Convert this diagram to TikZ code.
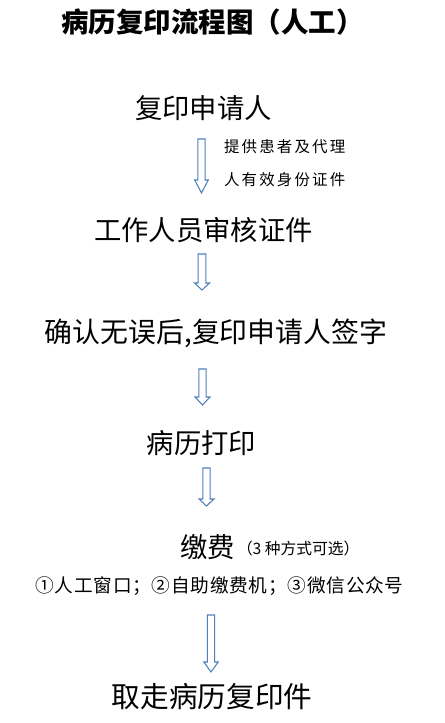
\documentclass[tikz,border=0pt]{standalone}
\usepackage{fontspec}
\setmainfont{Noto Sans CJK SC}
\newfontfamily\cjk{Noto Sans CJK SC}
\newfontfamily\cjksp[LetterSpace=14]{Noto Sans CJK SC}
\newfontfamily\cjkspb[LetterSpace=4]{Noto Sans CJK SC}
\definecolor{arrowblue}{RGB}{79,129,189}
\tikzset{
  txt/.style={inner sep=0pt, outer sep=0pt, text=black},
  mainstep/.style={txt, font=\cjk\fontsize{20.5pt}{24pt}\selectfont},
  blockarrow/.style={draw=arrowblue, fill=white, line width=0.8pt, line join=miter},
}
% \barrow{cx}{top}{headstart}{tip}{shaft half width}{head half width}
\newcommand\barrow[6]{%
  \draw[blockarrow] (#1-#5,#2) -- (#1+#5,#2) -- (#1+#5,#3) -- (#1+#6,#3)
    -- (#1,#4) -- (#1-#6,#3) -- (#1-#5,#3) -- cycle;}
\begin{document}
\begin{tikzpicture}[x=0.75pt,y=-0.75pt]
\useasboundingbox (0,0) rectangle (445,723);
\fill[white] (0,0) rectangle (445,723);

\node[txt, font=\cjk\bfseries\fontsize{20.6pt}{24pt}\selectfont] (title) at (212.5,22) {病历复印流程图（人工）};

\node[mainstep] (s1) at (203.5,108) {复印申请人};
\node[txt, anchor=west, font=\cjksp\fontsize{11.6pt}{14pt}\selectfont] (n1) at (224,147) {提供患者及代理};
\node[txt, anchor=west, font=\cjksp\fontsize{11.6pt}{14pt}\selectfont] (n2) at (224,180) {人有效身份证件};

\node[mainstep] (s2) at (203.5,230) {工作人员审核证件};
\node[mainstep, font=\cjk\fontsize{20.9pt}{24pt}\selectfont] (s3) at (216,333) {确认无误后,复印申请人签字};
\node[mainstep] (s4) at (201.5,443) {病历打印};
\node[mainstep, anchor=west] (s5) at (180,547) {缴费};
\node[txt, anchor=west, font=\cjk\fontsize{11.8pt}{13pt}\selectfont] (s5b) at (237,549) {（3 种方式可选）};
\node[txt, font=\cjkspb\fontsize{14pt}{16pt}\selectfont] (s5c) at (219.5,586) {①人工窗口；②自助缴费机；③微信公众号};
\node[txt, font=\cjk\fontsize{21.5pt}{25pt}\selectfont] (s6) at (212,697) {取走病历复印件};

\barrow{201.5}{139}{180}{193}{3.6}{6.8}
\barrow{202}{254}{283}{290}{3.8}{7.5}
\barrow{202.5}{369}{397}{405}{3.6}{7.5}
\barrow{206.5}{468}{499}{506}{3.7}{7.5}
\barrow{211}{615}{662}{672}{3.6}{7.2}
\end{tikzpicture}
\end{document}
